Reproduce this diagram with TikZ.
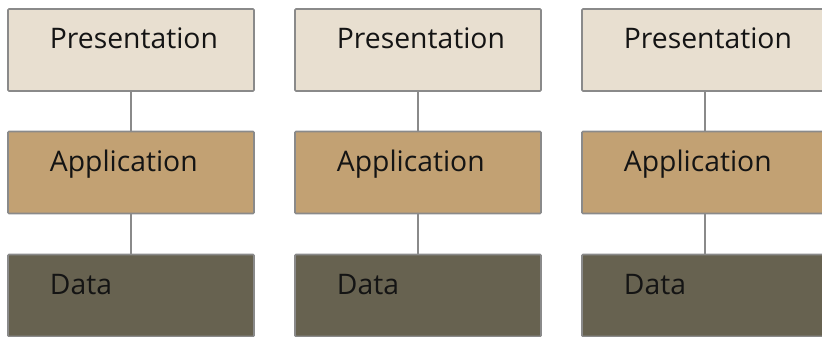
\documentclass[tikz,border=0pt]{standalone}
\usepackage{fontspec}
\setmainfont{Open Sans}
\usetikzlibrary{calc}
\definecolor{presfill}{HTML}{E8DFD0}
\definecolor{appfill}{HTML}{C2A173}
\definecolor{datafill}{HTML}{676250}
\definecolor{edgegray}{HTML}{8A8A8A}
\definecolor{txt}{HTML}{141414}
\tikzset{
  tier/.style={draw=edgegray, line width=1.6pt, rounded corners=1pt,
    minimum width=246pt, minimum height=82pt, inner sep=0pt},
  pres/.style={tier, fill=presfill},
  app/.style={tier, fill=appfill},
  dat/.style={tier, fill=datafill},
  lbl/.style={anchor=base west, inner sep=0pt, text=txt,
    font=\fontsize{28.3}{32}\selectfont},
  link/.style={draw=edgegray, line width=1.1pt}
}
\begin{document}
\begin{tikzpicture}[x=1pt,y=-1pt]
\useasboundingbox (0,0) rectangle (822,337);
\foreach \i/\cx in {1/131,2/418,3/705}{
  \node[pres] (p\i) at (\cx,50) {};
  \node[app] (a\i) at (\cx,172.5) {};
  \node[dat] (d\i) at (\cx,295.5) {};
  \draw[link] (p\i.south) -- (a\i.north);
  \draw[link] (a\i.south) -- (d\i.north);
  \node[lbl] (tp\i) at ($(p\i.north west)+(42.5,40.5)$) {Presentation};
  \node[lbl] (ta\i) at ($(a\i.north west)+(42.5,40.5)$) {Application};
  \node[lbl] (td\i) at ($(d\i.north west)+(42.5,40.5)$) {Data};
}
\end{tikzpicture}
\end{document}
